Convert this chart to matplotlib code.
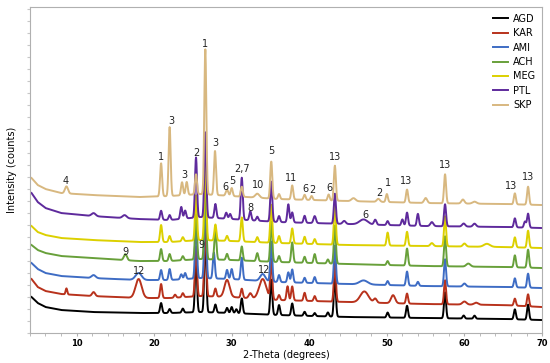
import numpy as np
import matplotlib
matplotlib.use("Agg")
import matplotlib.pyplot as plt
from matplotlib.ticker import MultipleLocator, NullFormatter

# sample names (bottom -> top) and line colours
samples = ["AGD", "KAR", "AMI", "ACH", "MEG", "PTL", "SKP"]
colors = ["#000000", "#B8321C", "#3E6CC4", "#68A03A", "#DCD000", "#5E2A9C", "#D8B880"]

# baseline (stacked, arbitrary units)
base_theta = [4.2, 5, 6, 8, 12, 18, 22, 26, 30, 36, 45, 55, 65, 70]
base_AGD = [36, 30, 26, 23, 21, 20, 20, 21, 20, 18, 16, 15, 14, 13]
base_KAR = [54, 46, 42, 39, 37, 35, 35, 37, 36, 33, 31, 29, 28, 26]
base_AMI = [70, 64, 60, 57, 55, 53, 53, 55, 54, 51, 49, 47, 46, 45]
base_ACH = [88, 83, 80, 77, 75, 72, 72, 74, 73, 71, 69, 67, 66, 65]
base_MEG = [107, 101, 98, 95, 93, 91, 91, 93, 92, 90, 88, 87, 86, 85]
base_PTL = [140, 131, 125, 120, 117, 114, 113, 116, 114, 111, 109, 107, 106, 105]
base_SKP = [155, 148, 144, 140, 138, 136, 137, 139, 137, 134, 132, 130, 129, 128]

# peaks: (2-theta, height above baseline, width)
peaks_AGD = [(20.9, 10, 0.1), (22.0, 4, 0.1), (23.7, 4, 0.1), (25.4, 55, 0.1), (26.6, 80, 0.1),
             (27.9, 8, 0.1), (29.4, 5, 0.1), (30.0, 6, 0.1), (30.6, 4, 0.1), (31.3, 15, 0.1),
             (35.1, 35, 0.1), (36.1, 10, 0.1), (37.8, 12, 0.1), (39.4, 4, 0.1), (40.7, 3, 0.1),
             (42.4, 4, 0.1), (43.3, 40, 0.1), (50.1, 5, 0.1), (52.6, 12, 0.1), (57.5, 26, 0.1),
             (59.9, 3, 0.1), (61.3, 3, 0.1), (66.5, 10, 0.1), (68.2, 15, 0.1)]
peaks_KAR = [(8.7, 6, 0.08), (12.2, 4, 0.15), (18.0, 19, 0.3), (20.9, 14, 0.1), (22.7, 3, 0.1),
             (23.7, 4, 0.1), (25.4, 50, 0.1), (26.6, 75, 0.1), (27.9, 8, 0.1), (29.4, 17, 0.25),
             (31.3, 9, 0.1), (32.4, 5, 0.15), (34.0, 20, 0.35), (35.1, 40, 0.1), (36.1, 5, 0.1),
             (37.2, 14, 0.1), (37.8, 14, 0.1), (39.4, 8, 0.1), (40.7, 5, 0.1), (43.3, 40, 0.1),
             (47.1, 11, 0.4), (48.5, 4, 0.15), (50.8, 8, 0.2), (52.6, 10, 0.1), (57.5, 24, 0.1),
             (60.0, 3, 0.2), (61.5, 2, 0.2), (66.5, 7, 0.1), (68.2, 12, 0.1)]
peaks_AMI = [(12.2, 3, 0.2), (18.0, 7, 0.3), (20.9, 10, 0.1), (22.0, 11, 0.1), (23.5, 5, 0.1),
             (24.0, 6, 0.1), (25.4, 55, 0.1), (26.6, 85, 0.1), (27.7, 26, 0.1), (29.4, 9, 0.1),
             (30.0, 10, 0.1), (31.3, 22, 0.1), (34.0, 7, 0.25), (35.1, 40, 0.1), (36.1, 7, 0.1),
             (37.3, 10, 0.1), (37.8, 13, 0.1), (39.4, 5, 0.1), (40.7, 6, 0.1), (43.3, 38, 0.1),
             (47.0, 4, 0.4), (50.1, 4, 0.1), (52.6, 14, 0.1), (54.0, 4, 0.1), (57.5, 27, 0.1),
             (60.0, 3, 0.15), (66.5, 9, 0.1), (68.2, 14, 0.1)]
peaks_ACH = [(16.3, 6, 0.15), (20.9, 12, 0.1), (22.0, 7, 0.1), (23.7, 4, 0.1), (25.4, 45, 0.1),
             (26.6, 75, 0.1), (27.9, 30, 0.1), (29.4, 6, 0.1), (31.3, 14, 0.1), (33.3, 8, 0.1),
             (35.1, 40, 0.1), (36.1, 6, 0.1), (37.8, 20, 0.1), (39.4, 6, 0.1), (40.7, 9, 0.1),
             (42.4, 4, 0.1), (43.3, 38, 0.1), (50.1, 4, 0.1), (52.6, 17, 0.1), (57.5, 30, 0.1),
             (60.5, 3, 0.2), (66.5, 12, 0.1), (68.2, 18, 0.1)]
peaks_MEG = [(20.9, 17, 0.1), (22.0, 6, 0.1), (23.7, 4, 0.1), (25.4, 45, 0.1), (26.6, 80, 0.1),
             (27.9, 16, 0.1), (29.4, 5, 0.1), (31.3, 24, 0.1), (33.3, 5, 0.1), (35.1, 38, 0.1),
             (36.1, 7, 0.1), (37.8, 15, 0.1), (39.4, 7, 0.1), (40.7, 5, 0.1), (43.3, 40, 0.1),
             (50.1, 13, 0.1), (52.6, 14, 0.1), (55.8, 3, 0.15), (57.5, 30, 0.1), (60.0, 3, 0.15),
             (62.9, 3, 0.3), (66.5, 10, 0.1), (68.2, 17, 0.1)]
peaks_PTL = [(12.2, 3, 0.2), (16.2, 3, 0.2), (20.9, 9, 0.1), (22.0, 5, 0.1), (23.5, 12, 0.1),
             (24.0, 8, 0.1), (25.4, 60, 0.1), (26.6, 85, 0.1), (27.9, 14, 0.1), (29.3, 6, 0.1),
             (29.8, 5, 0.1), (31.3, 42, 0.1), (32.4, 9, 0.1), (33.3, 4, 0.1), (35.1, 40, 0.1),
             (36.1, 6, 0.1), (37.3, 18, 0.1), (37.8, 10, 0.1), (39.4, 7, 0.1), (40.7, 7, 0.12),
             (43.3, 30, 0.1), (44.5, 3, 0.15), (47.0, 5, 0.4), (48.5, 5, 0.12), (50.1, 4, 0.1),
             (52.0, 6, 0.1), (52.6, 13, 0.1), (54.0, 12, 0.1), (55.8, 4, 0.15), (57.5, 22, 0.1),
             (59.9, 3, 0.15), (61.3, 3, 0.15), (66.5, 9, 0.1), (67.8, 6, 0.1), (68.2, 14, 0.1)]
peaks_SKP = [(8.7, 7, 0.15), (20.9, 33, 0.1), (22.0, 69, 0.1), (23.6, 13, 0.1), (24.2, 13, 0.1),
             (25.4, 20, 0.1), (26.6, 145, 0.1), (27.85, 44, 0.1), (29.4, 6, 0.12), (30.0, 8, 0.1),
             (31.3, 10, 0.1), (33.3, 4, 0.2), (35.1, 37, 0.1), (36.1, 5, 0.1), (37.8, 14, 0.1),
             (39.4, 5, 0.1), (40.3, 4, 0.1), (42.5, 6, 0.1), (43.3, 35, 0.1), (45.7, 3, 0.2),
             (48.9, 3, 0.15), (50.0, 8, 0.1), (52.6, 13, 0.1), (55.0, 5, 0.15), (57.5, 29, 0.1),
             (59.8, 4, 0.15), (61.3, 2, 0.2), (66.5, 11, 0.1), (68.2, 18, 0.1)]

baselines = [base_AGD, base_KAR, base_AMI, base_ACH, base_MEG, base_PTL, base_SKP]
peak_lists = [peaks_AGD, peaks_KAR, peaks_AMI, peaks_ACH, peaks_MEG, peaks_PTL, peaks_SKP]

# phase labels: (text, 2-theta, intensity)
label_text = ["4", "1", "3", "3", "2", "1", "3", "6", "5", "2,7", "8", "10", "5", "11", "6", "2",
              "6", "13", "2", "1", "13", "6", "13", "13", "13", "9", "12", "9", "12"]
label_theta = [8.64, 20.89, 22.17, 23.85, 25.40, 26.56, 27.85, 29.14, 30.04, 31.33, 32.36, 33.39,
               35.06, 37.64, 39.45, 40.35, 42.54, 43.31, 48.99, 50.15, 52.47, 47.18, 57.49, 66.0,
               68.19, 16.25, 18.05, 26.04, 34.16]
label_y = [152, 176, 212, 158, 180, 289, 190, 146, 152, 164, 125, 148, 182, 155, 144, 143, 145,
           176, 140, 150, 152, 118, 168, 147, 156, 81, 62, 88, 63]

theta = np.arange(4.2, 70.0, 0.02)

fig = plt.figure(figsize=(5.5, 3.63), dpi=100)
ax = fig.add_axes([0.0545, 0.0826, 0.931, 0.898])

for name, col, base, pk in zip(samples, colors, baselines, peak_lists):
    y = np.interp(theta, base_theta, base)
    for pos, h, w in pk:
        y = y + h * np.exp(-0.5 * ((theta - pos) / (w * 1.3)) ** 2)
    ax.plot(theta, y, color=col, lw=1.4, label=name)

for t, x, yy in zip(label_text, label_theta, label_y):
    ax.text(x, yy, t, fontsize=7, ha="center", va="center", color="#222222")

ax.set_xlim(4, 70)
ax.set_ylim(0, 326)
ax.xaxis.set_major_locator(MultipleLocator(10))
ax.xaxis.set_minor_locator(MultipleLocator(2))
ax.yaxis.set_major_locator(MultipleLocator(12))
ax.yaxis.set_major_formatter(NullFormatter())
ax.set_xticks([10, 20, 30, 40, 50, 60, 70])
ax.tick_params(axis="x", which="both", length=2, color="#B0B0B0", labelsize=6, pad=2)
ax.tick_params(axis="y", which="both", length=2, color="#C8C8C8")
for lab in ax.get_xticklabels():
    lab.set_fontweight("bold")
for s in ax.spines.values():
    s.set_color("#B0B0B0")
    s.set_linewidth(0.8)

ax.set_xlabel("2-Theta (degrees)", fontsize=7, labelpad=2)
ax.set_ylabel("Intensity (counts)", fontsize=7, labelpad=4)

h, l = ax.get_legend_handles_labels()
ax.legend(h, l, loc="upper right", frameon=False, fontsize=7, handlelength=1.6,
          labelspacing=0.45, borderaxespad=0.3, handletextpad=0.5)

fig.savefig("out.png", dpi=100)
